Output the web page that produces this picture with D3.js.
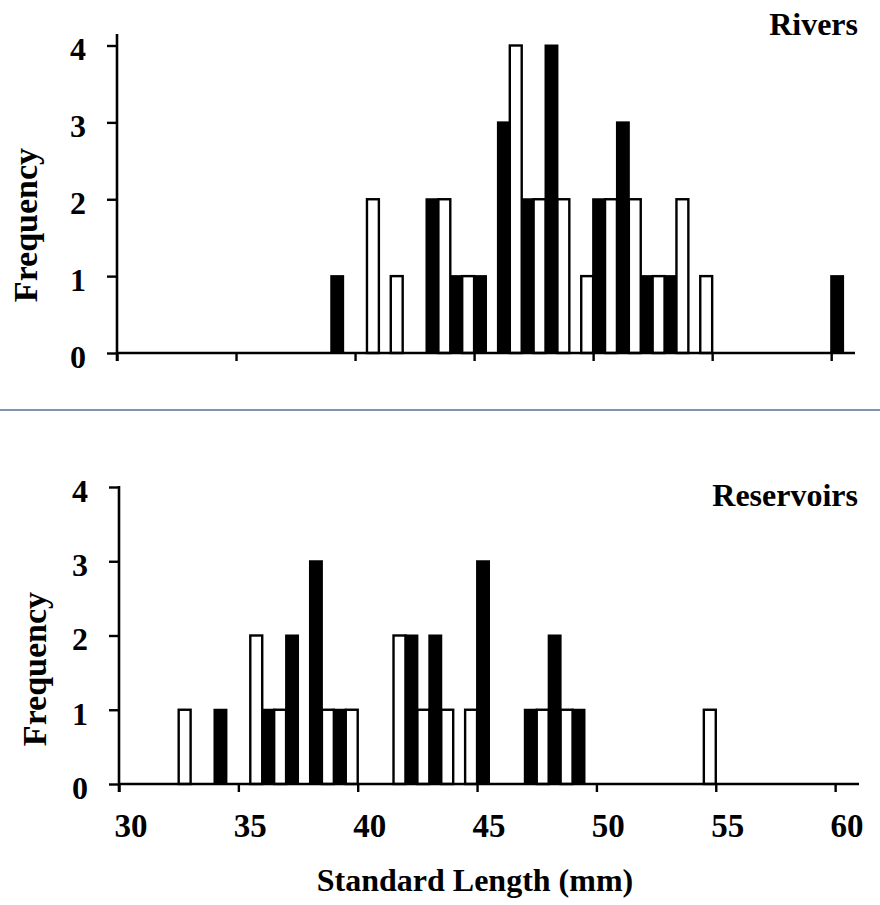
<!DOCTYPE html>
<html>
<head>
<meta charset="utf-8">
<script src="https://cdn.jsdelivr.net/npm/d3@7"></script>
<style>
  html, body { margin: 0; padding: 0; background: #fff; }
  svg { display: block; }
  svg text { font-family: "Liberation Serif", "Tinos", "Times New Roman", "DejaVu Serif", serif !important; font-weight: bold; fill: #000; }
</style>
</head>
<body>
<svg id="chart" width="880" height="905"></svg>
<script>
// Length classes (mm), one per 1-mm category
const lengths = d3.range(30, 61);

// Frequencies per length class, filled (black) and open (white) series
const riversFilled = [0,0,0,0,0,0,0,0,0,1, 0,0,0,2,1,1,3,2,4,0, 2,3,1,1,0,0,0,0,0,0, 1];
const riversOpen   = [0,0,0,0,0,0,0,0,0,0, 2,1,0,2,1,0,4,2,2,1, 2,2,1,2,1,0,0,0,0,0, 0];
const reservoirsFilled = [0,0,0,0,1,0,1,2,3,1, 0,0,2,2,0,3,0,1,2,1, 0,0,0,0,0,0,0,0,0,0, 0];
const reservoirsOpen   = [0,0,1,0,0,2,1,0,1,1, 0,2,1,1,1,0,0,1,1,0, 0,0,0,0,1,0,0,0,0,0, 0];

const xTickValues = [30, 35, 40, 45, 50, 55, 60];
const yTickValues = [0, 1, 2, 3, 4];

const panels = [
  { title: "Rivers", filled: riversFilled, open: riversOpen,
    xr: [117, 855], yr: [353, 45.5], axisTop: 34, showXLabels: false,
    titleY: 35, freqX: 25, freqY: 225 },
  { title: "Reservoirs", filled: reservoirsFilled, open: reservoirsOpen,
    xr: [119, 859], yr: [784, 487], axisTop: 486, showXLabels: true,
    titleY: 506, freqX: 34, freqY: 669 }
];

const SERIF = '"Liberation Serif", "Tinos", "Times New Roman", "DejaVu Serif", serif';
const svg = d3.select("#chart").attr("font-family", SERIF);
const FS = 32;        // tick labels and titles
const FS_XTICK = 33;  // x tick labels
const FS_YTITLE = 34; // rotated axis title

panels.forEach(p => {
  const x = d3.scaleLinear().domain([30, 61]).range(p.xr);
  const y = d3.scaleLinear().domain([0, 4]).range(p.yr);
  const g = svg.append("g");
  const half = x(30.5) - x(30);

  const rows = lengths.map((k, i) => ({ k, filled: p.filled[i], open: p.open[i] }));

  // filled bars occupy the left half of each category
  g.selectAll("rect.filled")
    .data(rows.filter(d => d.filled > 0))
    .join("rect")
    .attr("class", "filled")
    .attr("x", d => x(d.k))
    .attr("y", d => y(d.filled))
    .attr("width", half)
    .attr("height", d => y(0) - y(d.filled))
    .attr("fill", "#000")
    .attr("stroke", "#000")
    .attr("stroke-width", 2);

  // open bars occupy the right half
  g.selectAll("rect.open")
    .data(rows.filter(d => d.open > 0))
    .join("rect")
    .attr("class", "open")
    .attr("x", d => x(d.k + 0.5))
    .attr("y", d => y(d.open))
    .attr("width", half)
    .attr("height", d => y(0) - y(d.open))
    .attr("fill", "#fff")
    .attr("stroke", "#000")
    .attr("stroke-width", 2.4);

  // x axis: line plus tick marks every 5 mm
  g.append("line")
    .attr("x1", x(30)).attr("x2", x(61))
    .attr("y1", y(0)).attr("y2", y(0))
    .attr("stroke", "#000").attr("stroke-width", 2.6);

  const xAxis = g.append("g")
    .attr("transform", `translate(0,${y(0)})`)
    .call(d3.axisBottom(x).tickValues(xTickValues).tickSize(8).tickFormat(""));
  xAxis.select(".domain").remove();
  xAxis.selectAll(".tick line").attr("stroke", "#000").attr("stroke-width", 2.4);

  if (p.showXLabels) {
    g.selectAll("text.xlab")
      .data(xTickValues)
      .join("text")
      .attr("class", "xlab")
      .attr("x", d => x(d + 0.5))
      .attr("y", 837)
      .attr("text-anchor", "middle")
      .attr("font-size", FS_XTICK)
      .text(d => d);
  }

  // y axis
  g.append("line")
    .attr("x1", x(30)).attr("x2", x(30))
    .attr("y1", p.axisTop).attr("y2", y(0) + 8)
    .attr("stroke", "#000").attr("stroke-width", 2.6);

  const yAxis = g.append("g")
    .attr("transform", `translate(${x(30)},0)`)
    .call(d3.axisLeft(y).tickValues(yTickValues).tickSize(10).tickPadding(21).tickFormat(d3.format("d")));
  yAxis.attr("font-family", SERIF);
  yAxis.select(".domain").remove();
  yAxis.selectAll(".tick line").attr("stroke", "#000").attr("stroke-width", 2.4);
  yAxis.selectAll(".tick text")
    .attr("font-size", FS)
    .attr("font-family", SERIF)
    .attr("font-weight", "bold")
    .attr("fill", "#000")
    .attr("dy", "0.45em");

  // y axis title
  g.append("text")
    .attr("transform", `translate(${p.freqX},${p.freqY}) rotate(-90)`)
    .attr("text-anchor", "middle")
    .attr("dy", "0.35em")
    .attr("font-size", FS_YTITLE)
    .text("Frequency");

  // panel title
  g.append("text")
    .attr("x", 858)
    .attr("y", p.titleY)
    .attr("text-anchor", "end")
    .attr("font-size", FS)
    .text(p.title);
});

// separator between the two panels
svg.append("line")
  .attr("x1", 0).attr("x2", 880)
  .attr("y1", 410).attr("y2", 410)
  .attr("stroke", "#8293ad").attr("stroke-width", 2);

// shared x axis title
svg.append("text")
  .attr("x", 475)
  .attr("y", 891)
  .attr("text-anchor", "middle")
  .attr("font-size", FS)
  .text("Standard Length (mm)");
</script>
</body>
</html>
